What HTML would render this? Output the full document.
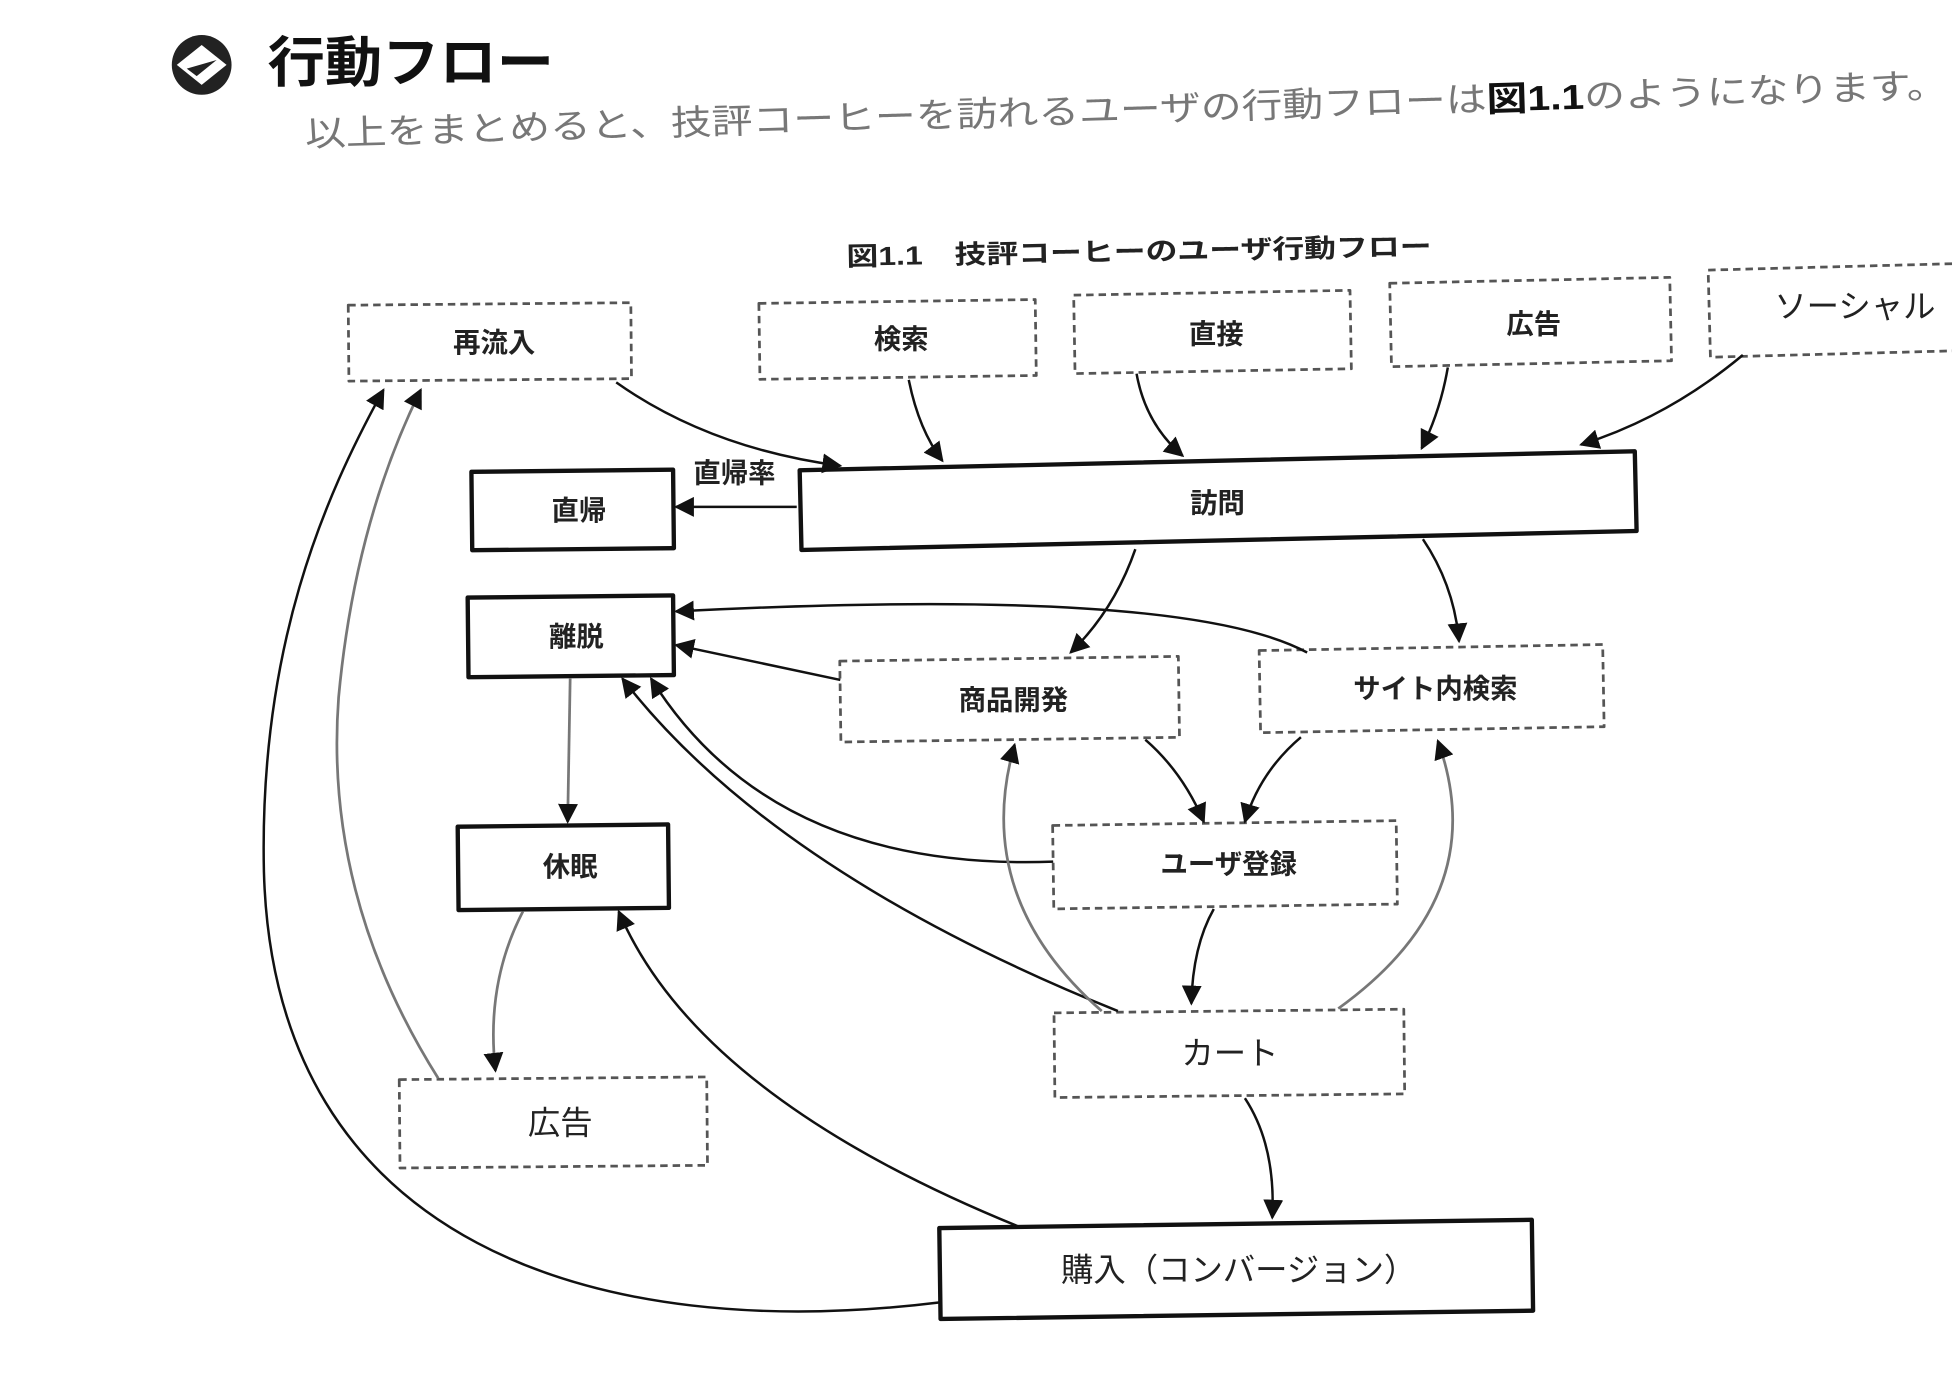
<!DOCTYPE html>
<html><head><meta charset="utf-8"><style>
html,body{margin:0;padding:0;background:#fff;}
svg{display:block;}
text{font-family:"Liberation Sans","Noto Sans CJK JP",sans-serif;font-weight:bold;fill:#222;text-anchor:middle;dominant-baseline:central;}
</style></head><body>
<svg width="1952" height="1376" viewBox="0 0 1568 1105" xmlns="http://www.w3.org/2000/svg">
<defs>
<marker id="b" viewBox="0 0 10 10" refX="9" refY="5" markerWidth="16" markerHeight="16" markerUnits="userSpaceOnUse" orient="auto"><path d="M0,0L10,5L0,10z" fill="#111"/></marker>
</defs>
<rect width="1568" height="1105" fill="#fff"/>
<!-- header -->
<circle cx="162" cy="52" r="24" fill="#222"/>
<path d="M142,52 L162,36 L182,52 L162,68z" fill="#fff"/>
<path d="M150,55 L174,48 L158,61z" fill="#222"/>
<text x="215" y="50" textLength="230" lengthAdjust="spacingAndGlyphs" style="font-size:44px;fill:#111;text-anchor:start">行動フロー</text>
<g transform="rotate(-1.7 245 108)">
<text x="245" y="108" textLength="1320" lengthAdjust="spacingAndGlyphs" style="font-size:28px;font-weight:normal;fill:#777;text-anchor:start">以上をまとめると、技評コーヒーを訪れるユーザの行動フローは<tspan style="font-weight:bold;fill:#111">図1.1</tspan>のようになります。</text>
</g>
<g transform="rotate(-1 680 206)">
<text x="680" y="206" textLength="470" lengthAdjust="spacingAndGlyphs" style="font-size:21px;text-anchor:start">図1.1　技評コーヒーのユーザ行動フロー</text>
</g>
<g stroke-linejoin="round">
<g fill="#fff" stroke="#555" stroke-width="2.2" stroke-dasharray="6 4">
<rect x="280" y="244" width="227" height="61" transform="rotate(-0.5 393 275)"/>
<rect x="610" y="242" width="222" height="61" transform="rotate(-0.8 721 272)"/>
<rect x="863" y="235" width="222" height="63" transform="rotate(-1 974 267)"/>
<rect x="1117" y="225" width="225" height="67" transform="rotate(-1.2 1230 258)"/>
<rect x="1373" y="214" width="215" height="70" transform="rotate(-1.5 1480 249)"/>
<rect x="675" y="529" width="272" height="65" transform="rotate(-0.8 811 561)"/>
<rect x="1012" y="520" width="276" height="66" transform="rotate(-1 1150 553)"/>
<rect x="846" y="661" width="276" height="67" transform="rotate(-0.8 984 694)"/>
<rect x="847" y="812" width="281" height="68" transform="rotate(-0.6 988 846)"/>
<rect x="321" y="866" width="247" height="71" transform="rotate(-0.5 444 901)"/>
</g>
<g fill="#fff" stroke="#111" stroke-width="3.5">
<rect x="643" y="370" width="671" height="64" transform="rotate(-1.3 978 402)"/>
<rect x="379" y="378" width="162" height="63" transform="rotate(-0.6 460 409)"/>
<rect x="376" y="479" width="165" height="64" transform="rotate(-0.6 458 511)"/>
<rect x="368" y="663" width="169" height="67" transform="rotate(-0.6 452 696)"/>
<rect x="755" y="983" width="476" height="73" transform="rotate(-0.8 993 1019)"/>
</g>
<g style="font-size:22px">
<text x="397" y="275">再流入</text>
<text x="724" y="272">検索</text>
<text x="977" y="268">直接</text>
<text x="1232" y="260">広告</text>
<text x="1490" y="246" style="font-size:26px;font-weight:normal">ソーシャル</text>
<text x="978" y="404">訪問</text>
<text x="465" y="410">直帰</text>
<text x="590" y="380">直帰率</text>
<text x="463" y="511">離脱</text>
<text x="814" y="562">商品開発</text>
<text x="1153" y="553">サイト内検索</text>
<text x="987" y="694">ユーザ登録</text>
<text x="458" y="696">休眠</text>
<text x="988" y="846" style="font-size:26px;font-weight:normal">カート</text>
<text x="450" y="902" style="font-size:26px;font-weight:normal">広告</text>
<text x="995" y="1020" style="font-size:26px;font-weight:normal">購入（コンバージョン）</text>
</g>
<g fill="none" stroke="#111" stroke-width="2" marker-end="url(#b)">
<path d="M495,307 Q570,360 675,374"/>
<path d="M730,305 Q738,345 757,370"/>
<path d="M913,300 Q920,340 950,366"/>
<path d="M1163,295 Q1157,330 1142,360"/>
<path d="M1400,285 Q1340,335 1270,357"/>
<path d="M640,407 L543,407"/>
<path d="M912,441 Q895,490 860,524"/>
<path d="M1143,433 Q1168,470 1172,515"/>
<path d="M1050,524 Q950,470 543,491"/>
<path d="M675,546 L543,518"/>
<path d="M920,594 Q950,620 967,660"/>
<path d="M1045,592 Q1012,620 1000,660"/>
<path d="M846,692 Q620,700 523,545"/>
<path d="M898,812 Q620,700 500,545"/>
<path d="M975,730 Q958,760 957,806"/>
<path d="M1000,882 Q1025,920 1022,978"/>
<path d="M818,985 Q560,880 497,732"/>
<path d="M755,1046 C480,1080 220,1000 212,700 C208,520 260,400 308,313"/>
</g>
<g fill="none" stroke="#777" stroke-width="2.2" marker-end="url(#b)">
<path d="M885,812 Q780,720 815,598"/>
<path d="M1075,810 Q1200,720 1155,595"/>
<path d="M458,545 L456,660"/>
<path d="M420,732 Q390,790 398,860"/>
<path d="M352,866 Q260,720 272,560 Q285,420 338,313"/>
</g>
</g>
</svg>
</body></html>
